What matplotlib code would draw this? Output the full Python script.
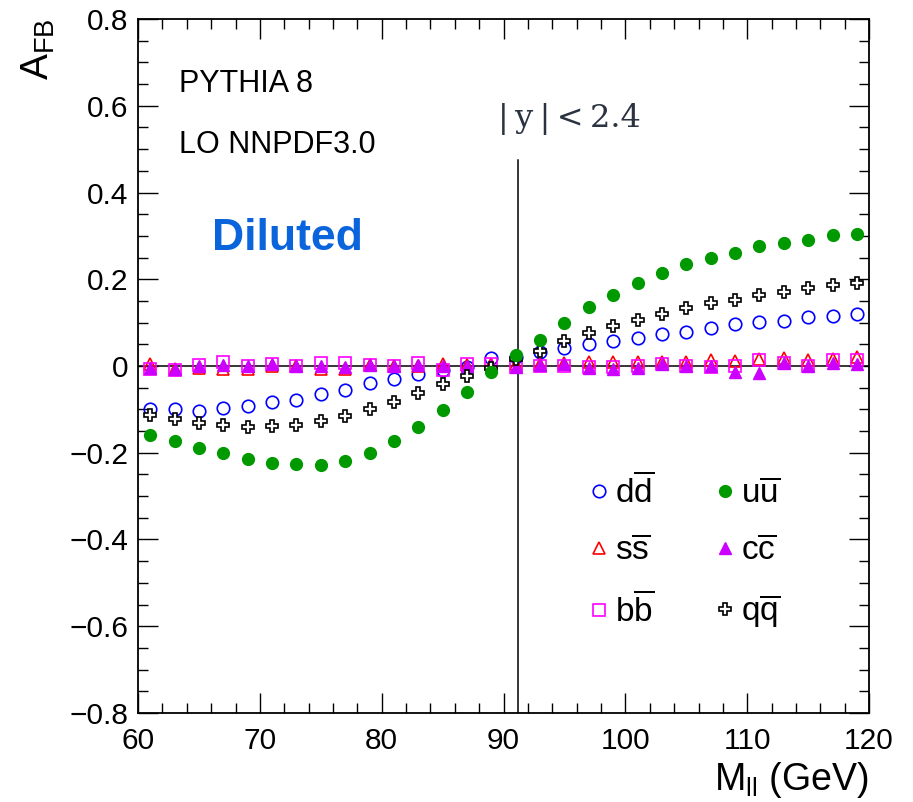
import matplotlib
matplotlib.use('Agg')
import matplotlib.pyplot as plt
from matplotlib.ticker import MultipleLocator

plt.rcParams.update({'font.family': 'Liberation Sans', 'mathtext.fontset': 'custom',
                     'mathtext.rm': 'Liberation Sans', 'mathtext.it': 'Liberation Sans:italic',
                     'mathtext.bf': 'Liberation Sans:bold', 'mathtext.default': 'regular'})

# bin centres of the dilepton mass (GeV)
mass = [61, 63, 65, 67, 69, 71, 73, 75, 77, 79, 81, 83, 85, 87, 89,
        91, 93, 95, 97, 99, 101, 103, 105, 107, 109, 111, 113, 115, 117, 119]

afb_dd = [-0.100, -0.100, -0.103, -0.096, -0.092, -0.082, -0.078, -0.065, -0.055, -0.040,
          -0.031, -0.019, -0.010, -0.002, 0.018, 0.021, 0.033, 0.042, 0.051, 0.058,
          0.064, 0.074, 0.079, 0.087, 0.096, 0.101, 0.104, 0.112, 0.115, 0.121]
afb_uu = [-0.158, -0.172, -0.188, -0.201, -0.215, -0.223, -0.227, -0.228, -0.218, -0.200,
          -0.173, -0.141, -0.101, -0.061, -0.015, 0.025, 0.061, 0.100, 0.135, 0.164,
          0.191, 0.214, 0.234, 0.250, 0.261, 0.277, 0.283, 0.291, 0.302, 0.304]
afb_ss = [0.004, -0.008, -0.005, -0.006, -0.006, 0.000, 0.000, -0.006, -0.007, 0.002,
          0.001, 0.000, 0.004, 0.003, 0.004, 0.005, 0.005, 0.006, 0.009, 0.009,
          0.009, 0.009, 0.009, 0.013, 0.011, 0.016, 0.018, 0.013, 0.016, 0.020]
afb_cc = [-0.004, -0.007, 0.000, 0.002, 0.000, 0.004, 0.000, 0.001, -0.003, 0.002,
          0.001, 0.003, -0.001, 0.001, 0.003, -0.003, 0.003, 0.004, -0.005, -0.006,
          -0.004, 0.004, 0.000, 0.000, -0.015, -0.017, 0.007, 0.000, 0.007, 0.005]
afb_bb = [-0.008, -0.010, 0.002, 0.010, 0.001, 0.004, 0.001, 0.006, 0.008, 0.002,
          0.001, 0.006, -0.010, 0.004, 0.004, -0.003, 0.000, 0.000, -0.002, -0.002,
          0.000, 0.005, 0.000, -0.002, 0.000, 0.014, 0.007, 0.000, 0.014, 0.014]
afb_qq = [-0.114, -0.122, -0.131, -0.135, -0.140, -0.138, -0.136, -0.126, -0.115, -0.100,
          -0.082, -0.063, -0.042, -0.023, -0.004, 0.015, 0.035, 0.058, 0.077, 0.092,
          0.106, 0.120, 0.133, 0.145, 0.152, 0.164, 0.171, 0.179, 0.187, 0.192]

z_mass = 91.19

f = plt.figure(figsize=(9.13, 8.02), dpi=100, facecolor='white')
ax = f.add_axes([0.1512, 0.1110, 0.8007, 0.8653])

ax.axhline(0, color='k', lw=1.1, zorder=1)
ax.plot([z_mass, z_mass], [-0.8, 0.475], color='k', lw=1.1, zorder=1)

h_dd, = ax.plot(mass, afb_dd, 'o', ms=9, mfc='none', mec='#0000ff', mew=1.2, ls='none', label=r'$d\overline{d}$')
h_ss, = ax.plot(mass, afb_ss, '^', ms=8, mfc='none', mec='#ff0000', mew=1.2, ls='none', label=r'$s\overline{s}$')
h_bb, = ax.plot(mass, afb_bb, 's', ms=8, mfc='none', mec='#ff00ff', mew=1.2, ls='none', label=r'$b\overline{b}$')
h_cc, = ax.plot(mass, afb_cc, '^', ms=8, mfc='#cc00ff', mec='#cc00ff', ls='none', label=r'$c\overline{c}$')
h_qq, = ax.plot(mass, afb_qq, 'P', ms=9, mfc='white', mec='k', mew=1.2, ls='none', label=r'$q\overline{q}$')
h_uu, = ax.plot(mass, afb_uu, 'o', ms=8.5, mfc='#009a00', mec='#009a00', ls='none', label=r'$u\overline{u}$')

ax.set_xlim(60, 120)
ax.set_ylim(-0.8, 0.8)
ax.xaxis.set_major_locator(MultipleLocator(10))
ax.xaxis.set_minor_locator(MultipleLocator(2))
ax.yaxis.set_major_locator(MultipleLocator(0.2))
ax.yaxis.set_minor_locator(MultipleLocator(0.05))
ax.yaxis.set_major_formatter(plt.FuncFormatter(lambda v, p: '0' if abs(v) < 1e-9 else '{:.1f}'.format(v).replace('-', '\u2212')))
ax.tick_params(which='both', direction='in', top=True, right=True, width=1.0, labelsize=21.5)
ax.tick_params(which='major', length=14.5)
ax.tick_params(which='minor', length=7.2)
ax.tick_params(axis='x', pad=10)
ax.tick_params(axis='y', pad=7)
for s in ax.spines.values():
    s.set_linewidth(1.3)

f.text(20 / 913, 1 - 18 / 802, r'$A_{FB}$', rotation=90, ha='left', va='top', fontsize=28)
f.text(869 / 913, 2 / 802, r'$M_{ll}$ (GeV)', ha='right', va='bottom', fontsize=27)

ax.text(0.056, 0.895, 'PYTHIA 8', transform=ax.transAxes, fontsize=22)
ax.text(0.056, 0.807, 'LO NNPDF3.0', transform=ax.transAxes, fontsize=22)
ax.text(0.101, 0.667, 'Diluted', transform=ax.transAxes, fontsize=32, fontweight='bold', color='#0a64dc')
ax.text(0.493, 0.845, '|\u2009y\u2009|\u2009<\u20092.4', transform=ax.transAxes, fontsize=23,
        family='DejaVu Serif', color='#2b3340')

ax.legend([h_dd, h_ss, h_bb, h_uu, h_cc, h_qq],
          [h.get_label() for h in [h_dd, h_ss, h_bb, h_uu, h_cc, h_qq]],
          ncol=2, loc='upper left', bbox_to_anchor=(0.612, 0.345), frameon=False, fontsize=24,
          handlelength=0.8, handletextpad=0.1, columnspacing=1.7, labelspacing=0.78,
          borderpad=0, borderaxespad=0, numpoints=1, markerscale=1.0)

f.savefig('out.png', dpi=100)
plt.close(f)
